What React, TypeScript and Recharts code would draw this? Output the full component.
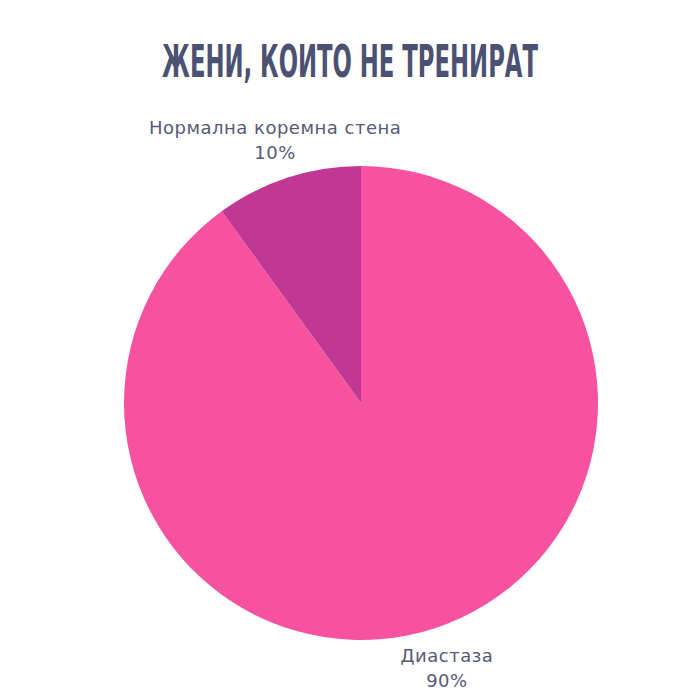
import React, { useLayoutEffect, useRef, useState } from 'react';
import { PieChart, Pie, Cell } from 'recharts';

const title = 'ЖЕНИ, КОИТО НЕ ТРЕНИРАТ';
const categories = ['Диастаза', 'Нормална коремна стена'];
const values = [90, 10];
const colors = ['#F652A0', '#C13894'];

const data = categories.map((name, i) => ({ name, value: values[i] }));

const RADIAN = Math.PI / 180;

const renderLabel = (props: any) => {
  const { cx, cy, midAngle, outerRadius, name, value } = props;
  const r = outerRadius + 41;
  const x = cx + r * Math.cos(-midAngle * RADIAN);
  const y = cy + r * Math.sin(-midAngle * RADIAN);
  return (
    <text
      x={x}
      y={y}
      textAnchor="middle"
      fill="#555B78"
      fontSize={18}
      letterSpacing={0.5}
      fontFamily="'DejaVu Sans', 'Noto Sans', sans-serif"
    >
      <tspan x={x} dy={-5}>{name}</tspan>
      <tspan x={x} dy={25}>{`${value}%`}</tspan>
    </text>
  );
};

const Title: React.FC = () => {
  const ref = useRef<SVGTextElement>(null);
  const [sx, setSx] = useState(0.7);
  useLayoutEffect(() => {
    if (ref.current) {
      const w = ref.current.getComputedTextLength();
      if (w > 0) setSx(376 / w);
    }
  }, []);
  return (
    <svg width={700} height={100} style={{ position: 'absolute', left: 0, top: 0, zIndex: 2 }}>
      <text
        ref={ref}
        transform={`translate(350,77) scale(${sx},1)`}
        textAnchor="middle"
        fill="#4B5173"
        fontSize={44}
        fontWeight="bold"
        fontFamily="'Liberation Sans Narrow', 'DejaVu Sans Condensed', 'Liberation Sans', sans-serif"
      >
        {title}
      </text>
    </svg>
  );
};

const App: React.FC = () => {
  return (
    <div style={{ position: 'relative', width: 700, height: 700, margin: -8, background: '#fff' }}>
      <div style={{ position: 'absolute', left: 0, top: 0 }}>
        <PieChart width={700} height={700} margin={{ top: 0, right: 0, bottom: 0, left: 0 }}>
          <Pie
            data={data}
            dataKey="value"
            nameKey="name"
            cx={361}
            cy={403}
            outerRadius={237}
            startAngle={90}
            endAngle={-270}
            stroke="none"
            label={renderLabel}
            labelLine={false}
            isAnimationActive={false}
          >
            {data.map((d, i) => (
              <Cell key={d.name} fill={colors[i]} />
            ))}
          </Pie>
        </PieChart>
      </div>
      <Title />
    </div>
  );
};

export default App;
